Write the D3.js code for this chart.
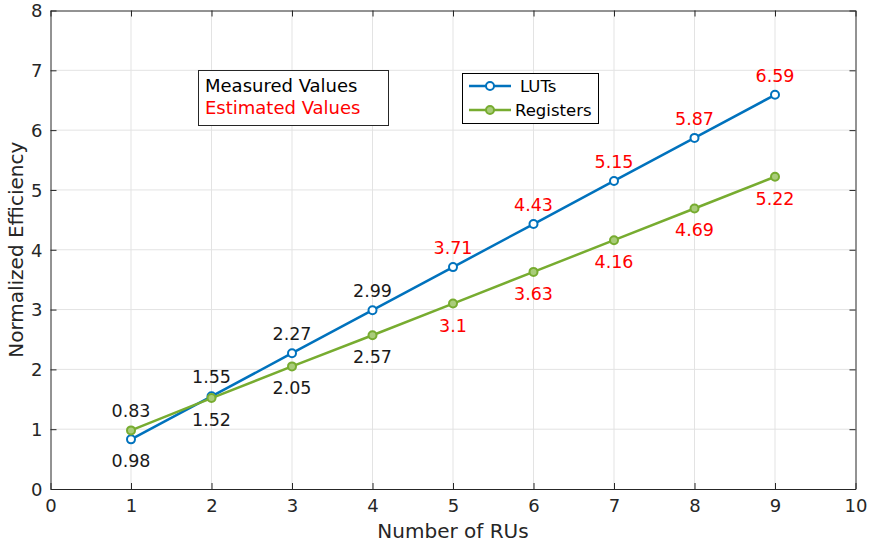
<!DOCTYPE html>
<html>
<head>
<meta charset="utf-8">
<script src="https://cdn.jsdelivr.net/npm/d3@7"></script>
<style>
  body { margin: 0; background: #fff; }
  text { font-family: "DejaVu Sans", sans-serif; }
</style>
</head>
<body>
<div id="chart"></div>
<script>
// data
const rus = [1, 2, 3, 4, 5, 6, 7, 8, 9];
const luts = [0.83, 1.55, 2.27, 2.99, 3.71, 4.43, 5.15, 5.87, 6.59];
const registers = [0.98, 1.52, 2.05, 2.57, 3.1, 3.63, 4.16, 4.69, 5.22];
const lutLabels = ["0.83", "1.55", "2.27", "2.99", "3.71", "4.43", "5.15", "5.87", "6.59"];
const regLabels = ["0.98", "1.52", "2.05", "2.57", "3.1", "3.63", "4.16", "4.69", "5.22"];
const measured = [true, true, true, true, false, false, false, false, false];
const xTicks = [0, 1, 2, 3, 4, 5, 6, 7, 8, 9, 10];
const yTicks = [0, 1, 2, 3, 4, 5, 6, 7, 8];

const width = 871, height = 547;
const margin = {left: 50.5, right: 15.5, top: 10.5, bottom: 58};
const axisColor = "#262626";
const blue = "#0072BD", green = "#77AC30";

let svg = d3.select("#chart")
    .append("svg")
    .attr("width", width)
    .attr("height", height);

let x = d3.scaleLinear().domain([0, 10]).range([margin.left, width - margin.right]);
let y = d3.scaleLinear().domain([0, 8]).range([height - margin.bottom, margin.top]);

// grid
svg.append("g").selectAll("line").data(xTicks.slice(1, -1)).enter().append("line")
    .attr("x1", d => x(d)).attr("x2", d => x(d))
    .attr("y1", y(0)).attr("y2", y(8))
    .attr("stroke", "#e3e3e3").attr("stroke-width", 1);
svg.append("g").selectAll("line").data(yTicks.slice(1, -1)).enter().append("line")
    .attr("y1", d => y(d)).attr("y2", d => y(d))
    .attr("x1", x(0)).attr("x2", x(10))
    .attr("stroke", "#e3e3e3").attr("stroke-width", 1);

// axes (inward ticks, box)
let xAxis = svg.append("g")
    .attr("transform", `translate(0, ${y(0)})`)
    .call(d3.axisBottom(x).tickValues(xTicks).tickSize(-6).tickPadding(10).tickSizeOuter(0));
let xAxisTop = svg.append("g")
    .attr("transform", `translate(0, ${y(8)})`)
    .call(d3.axisTop(x).tickValues(xTicks).tickSize(-6).tickFormat("").tickSizeOuter(0));
let yAxis = svg.append("g")
    .attr("transform", `translate(${x(0)}, 0)`)
    .call(d3.axisLeft(y).tickValues(yTicks).tickSize(-6).tickPadding(8).tickSizeOuter(0));
let yAxisRight = svg.append("g")
    .attr("transform", `translate(${x(10)}, 0)`)
    .call(d3.axisRight(y).tickValues(yTicks).tickSize(-6).tickFormat("").tickSizeOuter(0));

[xAxis, xAxisTop, yAxis, yAxisRight].forEach(function(g) {
    g.select(".domain").attr("stroke", axisColor).attr("stroke-width", 1);
    g.selectAll(".tick line").attr("stroke", axisColor);
    g.selectAll(".tick text").attr("fill", axisColor).style("font-size", "18px")
        .style("font-family", "DejaVu Sans, sans-serif");
});
yAxis.selectAll(".tick text").attr("dy", "0.35em");

// axis titles
svg.append("text")
    .attr("x", (x(0) + x(10)) / 2)
    .attr("y", 538)
    .attr("text-anchor", "middle")
    .attr("fill", axisColor)
    .style("font-size", "20px")
    .text("Number of RUs");

svg.append("text")
    .attr("transform", `translate(23, ${(y(0) + y(8)) / 2}) rotate(-90)`)
    .attr("text-anchor", "middle")
    .attr("fill", axisColor)
    .style("font-size", "20px")
    .text("Normalized Efficiency");

// series
let series = [
    {name: "LUTs", values: luts, color: blue},
    {name: "Registers", values: registers, color: green}
];

let line = d3.line()
    .x(d => x(d[0]))
    .y(d => y(d[1]));

series.forEach(function(s) {
    let pts = rus.map((r, i) => [r, s.values[i]]);
    svg.append("path")
        .datum(pts)
        .attr("d", line)
        .attr("fill", "none")
        .attr("stroke", s.color)
        .attr("stroke-width", 2.5);
    svg.append("g").selectAll("circle").data(pts).enter().append("circle")
        .attr("cx", d => x(d[0]))
        .attr("cy", d => y(d[1]))
        .attr("r", 4)
        .attr("fill", s.name == "LUTs" ? "#fff" : "#a9cc7a")
        .attr("stroke", s.color)
        .attr("stroke-width", 2);
});

// value labels: LUT text above the upper point, register text below the lower one
rus.forEach(function(r, i) {
    let top = Math.max(luts[i], registers[i]);
    let bottom = Math.min(luts[i], registers[i]);
    let col = measured[i] ? "#1a1a1a" : "#ff0000";
    svg.append("text")
        .attr("x", x(r))
        .attr("y", y(top) - 13)
        .attr("text-anchor", "middle")
        .attr("fill", col)
        .style("font-size", "17.5px")
        .text(lutLabels[i]);
    svg.append("text")
        .attr("x", x(r))
        .attr("y", y(bottom) + 28)
        .attr("text-anchor", "middle")
        .attr("fill", col)
        .style("font-size", "17.5px")
        .text(regLabels[i]);
});

// text note box
let note = svg.append("g");
note.append("rect")
    .attr("x", 198.5).attr("y", 70.5).attr("width", 190).attr("height", 55)
    .attr("fill", "#fff").attr("stroke", axisColor).attr("stroke-width", 1);
note.append("text").attr("x", 205).attr("y", 92)
    .attr("fill", "#000").style("font-size", "18px").text("Measured Values");
note.append("text").attr("x", 205).attr("y", 114)
    .attr("fill", "#ff0000").style("font-size", "18px").text("Estimated Values");

// legend
let legend = svg.append("g");
legend.append("rect")
    .attr("x", 462.5).attr("y", 73.5).attr("width", 136).attr("height", 50)
    .attr("fill", "#fff").attr("stroke", "#000").attr("stroke-width", 1);
series.forEach(function(s, i) {
    let ly = 86 + i * 24;
    legend.append("line")
        .attr("x1", 469).attr("x2", 511).attr("y1", ly).attr("y2", ly)
        .attr("stroke", s.color).attr("stroke-width", 2.5);
    legend.append("circle")
        .attr("cx", 490).attr("cy", ly).attr("r", 4)
        .attr("fill", i == 0 ? "#fff" : "#a9cc7a")
        .attr("stroke", s.color).attr("stroke-width", 2);
    legend.append("text")
        .attr("x", i == 0 ? 520 : 515).attr("y", ly + 6)
        .attr("fill", "#000").style("font-size", "16.5px")
        .text(s.name);
});
</script>
</body>
</html>
